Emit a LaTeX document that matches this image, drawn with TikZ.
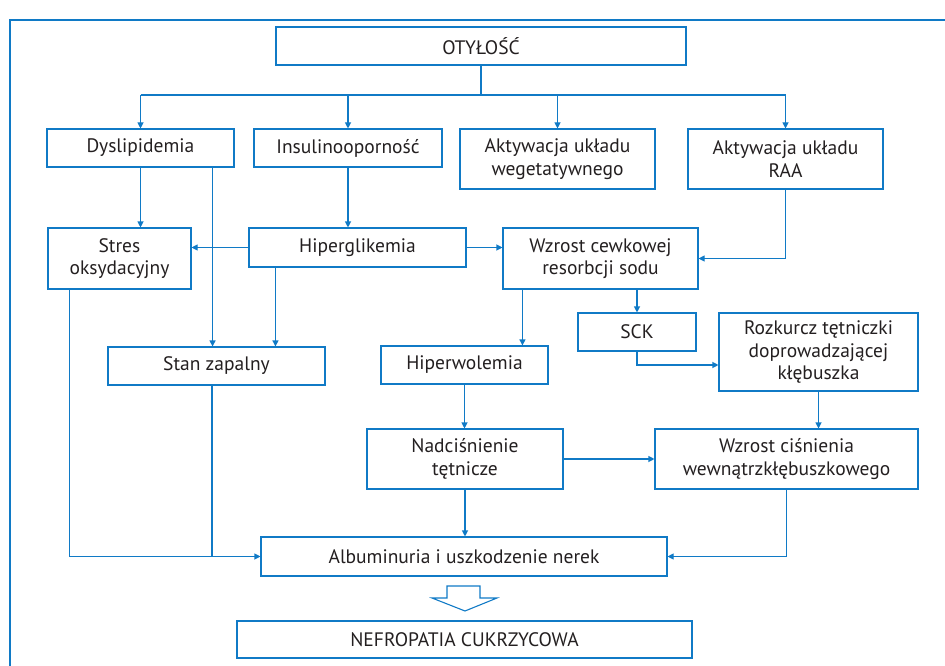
\documentclass[tikz,border=0pt]{standalone}
\usepackage{fontspec}
\setmainfont{PT Sans}
\usepackage{tikz}
\usetikzlibrary{arrows.meta}
\definecolor{lineblue}{RGB}{16,122,198}
\definecolor{textgray}{RGB}{35,31,32}

\begin{document}
\begin{tikzpicture}[x=1pt,y=-1pt]
\tikzstyle{every node}=[font=\fontsize{19.5}{22.5}\selectfont, text=textgray]
\tikzstyle{box}=[draw=lineblue, line width=1.1pt, align=center, inner sep=0pt]
\tikzstyle{link}=[draw=lineblue, line width=1.1pt]
\tikzstyle{arr}=[link, -{Triangle[length=6pt,width=6pt]}]

\useasboundingbox (0,0) rectangle (945,666);

% Draw frame
\draw[link] (945,20) -- (10,20) -- (10,666);

% Draw boxes
\node[box, minimum width=410pt, minimum height=38pt] (oty) at (481,46) {OTYŁOŚĆ};
\node[box, minimum width=187pt, minimum height=38pt] (dys) at (140.5,148) {Dyslipidemia};
\node[box, minimum width=188pt, minimum height=38pt] (ins) at (348,148) {Insulinooporność};
\node[box, minimum width=195pt, minimum height=60pt] (weg) at (557.5,159) {Aktywacja układu\\wegetatywnego};
\node[box, minimum width=195pt, minimum height=60pt] (raa) at (785.5,159) {Aktywacja układu\\RAA};
\node[box, minimum width=143pt, minimum height=61pt] (stres) at (119.5,258.5) {Stres\\oksydacyjny};
\node[box, minimum width=217pt, minimum height=39pt] (hip) at (357.5,247.5) {Hiperglikemia};
\node[box, minimum width=195pt, minimum height=61pt] (wzr) at (600.5,258.5) {Wzrost cewkowej\\resorbcji sodu};
\node[box, minimum width=118pt, minimum height=38pt] (sck) at (637,332) {SCK};
\node[box, minimum width=199pt, minimum height=78pt] (roz) at (818.5,352) {Rozkurcz tętniczki\\doprowadzającej\\kłębuszka};
\node[box, minimum width=217pt, minimum height=38pt] (stan) at (216.5,366) {Stan zapalny};
\node[box, minimum width=167pt, minimum height=38pt] (hwol) at (464.5,365) {Hiperwolemia};
\node[box, minimum width=196pt, minimum height=60pt] (nad) at (465,459) {Nadciśnienie\\tętnicze};
\node[box, minimum width=263pt, minimum height=60pt] (wcis) at (786.5,459) {Wzrost ciśnienia\\wewnątrzkłębuszkowego};
\node[box, minimum width=406pt, minimum height=39pt] (alb) at (464,556.5) {Albuminuria i uszkodzenie nerek};
\node[box, minimum width=455pt, minimum height=37pt] (nef) at (464.5,639.5) {NEFROPATIA CUKRZYCOWA};

% Draw connectors from the top box
\coordinate (split) at (481,95);
\draw[link] (oty.south) -- (split);
\draw[link] (dys.north |- split) -- (raa.north |- split);
\foreach \n in {dys,ins,weg,raa} {
    \draw[arr] (\n.north |- split) -- (\n.north);
}

% Draw middle connectors
\draw[arr] (dys.south) -- (dys.south |- stres.north);
\draw[arr] ([xshift=-22pt]dys.south east) -- ([xshift=-22pt]dys.south east |- stan.north);
\draw[arr] (ins.south) -- (ins.south |- hip.north);
\draw[arr] (hip.west) -- (hip.west -| stres.east);
\draw[arr] (hip.east) -- (hip.east -| wzr.west);
\draw[arr] ([xshift=27pt]hip.south west) -- ([xshift=27pt]hip.south west |- stan.north);
\draw[arr] (raa.south) |- (wzr.east);
\draw[arr] ([xshift=20pt]wzr.south west) -- ([xshift=20pt]wzr.south west |- hwol.north);
\draw[arr] (wzr.south -| sck.north) -- (sck.north);
\draw[arr] (sck.south) |- ([yshift=-13pt]roz.west);
\draw[arr] (hwol.south) -- (hwol.south |- nad.north);
\draw[arr] (nad.east) -- (nad.east -| wcis.west);
\draw[arr] (roz.south) -- (roz.south |- wcis.north);

% Draw connectors into albuminuria
\draw[arr] (nad.south) -- (nad.south |- alb.north);
\draw[arr] (wcis.south) |- (alb.east);
\draw[arr] ([xshift=22pt]stres.south west) |- (alb.west);
\draw[link] ([xshift=-4.5pt]stan.south) -- ([xshift=-4.5pt]stan.south |- alb.west);

% Draw hollow arrow
\draw[link, line join=miter] (447,586) -- (480,586) -- (480,598) -- (497,598) -- (465,611) -- (432,598) -- (447,598) -- cycle;

\end{tikzpicture}
\end{document}
